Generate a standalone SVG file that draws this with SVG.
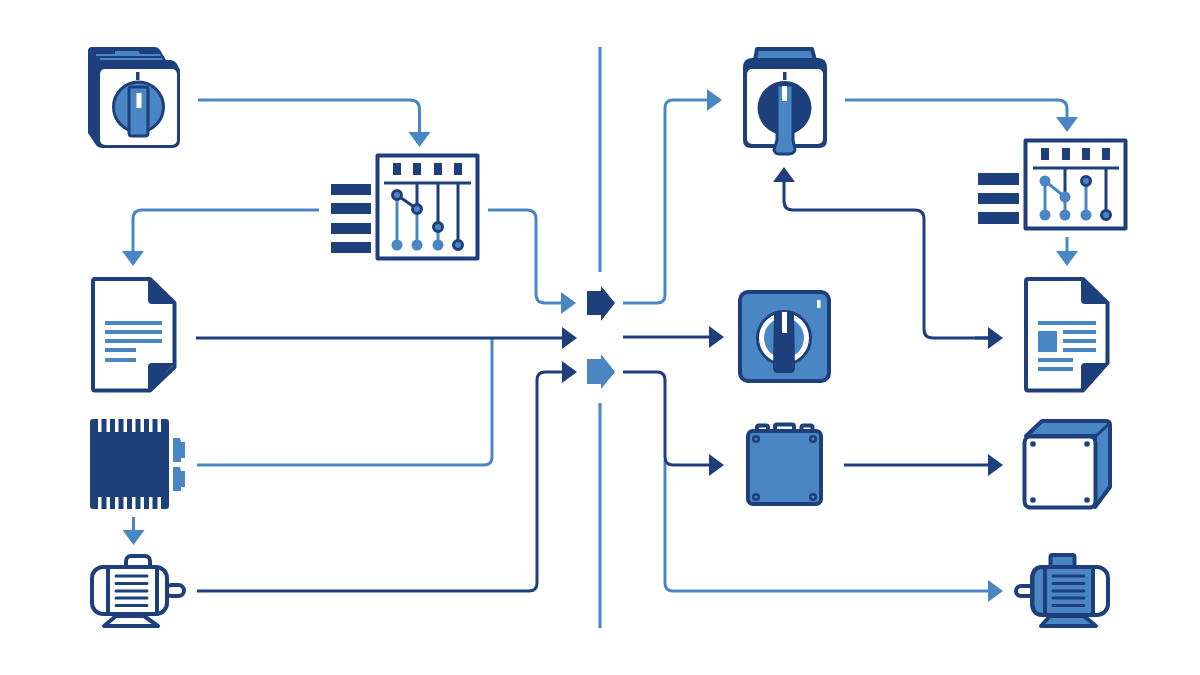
<svg xmlns="http://www.w3.org/2000/svg" width="1200" height="675" viewBox="0 0 1200 675">
<style>
.n{fill:#1d3f7c}.b{fill:#4a86c4}.w{fill:#fff}
.c{fill:none;stroke-width:3;stroke-linejoin:round}
.cb{stroke:#4a86c4}.cn{stroke:#1d3f7c}
.tl{stroke:#1d3f7c;stroke-width:3;fill:none}
.bl{stroke:#4a86c4;stroke-width:3;fill:none}
.nb{stroke:#1d3f7c;stroke-width:4;fill:#4a86c4;stroke-linejoin:round}
.nw{stroke:#1d3f7c;stroke-width:4;fill:#fff;stroke-linejoin:round}
.dot{stroke:#1d3f7c;stroke-width:3;fill:#4a86c4}
.knob{stroke:#1d3f7c;stroke-width:3;fill:#4a86c4;stroke-linejoin:round}
</style>
<defs>
<marker id="ab" markerUnits="userSpaceOnUse" markerWidth="18" markerHeight="24" refX="1" refY="11" orient="auto"><path d="M0 0L15 11L0 22Z" fill="#4a86c4"/></marker>
<marker id="an" markerUnits="userSpaceOnUse" markerWidth="18" markerHeight="24" refX="1" refY="11" orient="auto"><path d="M0 0L15 11L0 22Z" fill="#1d3f7c"/></marker>
</defs>
<rect width="1200" height="675" fill="#fff"/>

<g id="connectors">
<path class="c cb" d="M600 47V272M600 403V628"/>
<path class="c cb" marker-end="url(#ab)" d="M198 100H410q9.500 0 9.500 9.500V133"/>
<path class="c cb" marker-end="url(#ab)" d="M319 210H142q-9 0-9 9V252"/>
<path class="c cb" marker-end="url(#ab)" d="M488 210H527q9 0 9 9V294q0 9 9 9H562"/>
<path class="c cb" d="M197 465H484q8 0 8-8V338"/>
<path class="c cn" marker-end="url(#an)" d="M196 338H563"/>
<path class="c cb" marker-end="url(#ab)" d="M133.500 517V531"/>
<path class="c cn" marker-end="url(#an)" d="M197 591H529q8 0 8-8V380q0-8 8-8H563"/>
<path class="c cb" marker-end="url(#ab)" d="M623 303H657q8 0 8-8V108q0-8 8-8H708"/>
<path class="c cn" marker-end="url(#an)" d="M623 337H710"/>
<path class="c cb" marker-end="url(#ab)" d="M665 460V583q0 8 8 8H989"/>
<path class="c cn" marker-end="url(#an)" d="M623 372H657q8 0 8 8V457q0 8 8 8H710"/>
<path class="c cn" marker-end="url(#an)" d="M844 465H989"/>
<path class="c cn" marker-end="url(#an)" d="M989 338H933q-9 0-9-9V219q0-9-9-9H793q-9 0-9-9V181"/>
<path class="c cn" marker-end="url(#an)" d="M975 338H989"/>
<path class="c cb" marker-end="url(#ab)" d="M845 100H1058q9 0 9 9V118"/>
<path class="c cb" marker-end="url(#ab)" d="M1067 237V252"/>
</g>

<g id="junction">
<path class="n" d="M587 291H601V286L615 303L601 321V315H587Z"/>
<path class="b" d="M587 359H601V354L615 372L601 389V384H587Z"/>
</g>

<g id="switch-left">
<path class="n" d="M92 47H155Q158 47 160 50L166 60H170Q174 60 177 64L180 70V140Q180 148 172 148H103Q98 148 96 145L88 133V51Q88 47 92 47Z"/>
<path class="b" d="M115 51H138L140 54H160L161 56H96V54H115ZM100 58H162L163 60H100Z"/>
<rect class="w" x="100" y="69" width="77" height="76" rx="5"/>
<rect class="n" x="136" y="72" width="3.500" height="8"/>
<circle class="knob" cx="138.500" cy="107" r="25"/>
<path class="knob" d="M131 87H146Q148 87 148 90V133Q148 136 145 136H132Q129 136 129 133V90Q129 87 131 87Z"/>
<rect class="w" x="136.500" y="93" width="5" height="15"/>
</g>

<g id="panel-left">
<rect class="nw" x="377.500" y="155.500" width="100" height="103" stroke-linejoin="miter"/>
<g class="n"><rect x="393" y="163" width="8" height="12"/><rect x="413" y="163" width="8" height="12"/><rect x="434" y="163" width="8" height="12"/><rect x="454" y="163" width="8" height="12"/>
<rect x="331" y="184" width="40" height="11"/><rect x="331" y="203" width="40" height="11"/><rect x="331" y="223" width="40" height="11"/><rect x="331" y="242" width="40" height="11"/></g>
<path class="tl" d="M384 183H471M417 183V209M438 183V227M458 183V244"/>
<path class="bl" d="M397 195V244M417 209V244M438 227V244"/>
<path class="tl" d="M397 195L417 209"/>
<circle class="dot" cx="397" cy="195" r="4.500"/><circle class="dot" cx="417" cy="209" r="4.500"/><circle class="dot" cx="438" cy="227" r="4.500"/>
<circle class="b" cx="397" cy="245" r="5.500"/><circle class="b" cx="417" cy="245" r="5.500"/><circle class="b" cx="438" cy="245" r="5.500"/><circle class="dot" cx="458" cy="245" r="4.500"/>
</g>

<g id="doc-left">
<path class="nw" d="M95 279H150L174.500 303V367L150 390.500H95Q93 390.500 93 388V281Q93 279 95 279Z"/>
<path class="n" d="M148 279L175 304H152Q148 304 148 300ZM148 392L175 363H152Q148 363 148 367Z"/>
<g class="b"><rect x="105" y="321" width="57" height="4"/><rect x="105" y="330" width="57" height="4"/><rect x="105" y="339" width="57" height="4"/><rect x="105" y="348" width="31" height="4"/><rect x="105" y="358" width="31" height="4"/></g>
</g>

<g id="chip">
<rect class="n" x="90" y="419" width="79" height="90" rx="3"/>
<g class="w"><rect x="98" y="419" width="3.500" height="13"/><rect x="106.500" y="419" width="3.500" height="13"/><rect x="115" y="419" width="3.500" height="13"/><rect x="123.500" y="419" width="3.500" height="13"/><rect x="132" y="419" width="3.500" height="13"/><rect x="140.500" y="419" width="3.500" height="13"/><rect x="149" y="419" width="3.500" height="13"/><rect x="157.500" y="419" width="3.500" height="13"/>
<rect x="98" y="497" width="3.500" height="12"/><rect x="106.500" y="497" width="3.500" height="12"/><rect x="115" y="497" width="3.500" height="12"/><rect x="123.500" y="497" width="3.500" height="12"/><rect x="132" y="497" width="3.500" height="12"/><rect x="140.500" y="497" width="3.500" height="12"/><rect x="149" y="497" width="3.500" height="12"/><rect x="157.500" y="497" width="3.500" height="12"/></g>
<path class="b" d="M173 438H180L181 442H185V458H181V462H173ZM173 467H180L181 471H185V487H181V491H173Z"/>
</g>

<g id="motor-left">
<rect class="nw" x="126" y="556" width="24" height="14" rx="5"/>
<rect class="nw" x="166" y="585" width="18" height="11" rx="5.500"/>
<rect class="nw" x="92" y="567" width="75" height="47" rx="11"/>
<rect class="nw" x="108" y="567" width="49" height="47"/>
<path class="tl" stroke-linecap="round" d="M116 576H147M116 583.500H147M116 591H147M116 598H147M116 605.500H147"/>
<path class="nw" d="M116 616H144L158 626H104Z"/>
</g>

<g id="switch-right">
<path class="nb" d="M757 49H812L815 60H755Z"/>
<path class="n" d="M752 58H818Q827 58 827 68V140Q827 148 819 148H751Q743 148 743 140V68Q743 58 752 58Z"/>
<rect class="w" x="747" y="69" width="76" height="75" rx="5"/>
<rect class="n" x="783" y="72" width="3.500" height="8"/>
<circle class="n" cx="784.500" cy="108" r="27"/>
<path class="knob" d="M777 85H793V140L795 150Q794 154 789 154H779Q775 154 774 150L777 140Z"/>
<rect class="w" x="782" y="86" width="5" height="15"/>
</g>

<g id="switch-dial">
<rect class="nb" x="740" y="292" width="89" height="89" rx="8"/>
<rect class="w" x="817" y="300" width="3.500" height="8"/>
<circle cx="784" cy="338" r="26.500" fill="#fff" stroke="#1d3f7c" stroke-width="3"/>
<circle class="b" cx="784" cy="338" r="20"/>
<path class="n" d="M776 312H792Q794 312 794 315L795 368Q795 373 790 373H778Q773 373 773 368L774 315Q774 312 776 312Z"/>
<rect class="w" x="782" y="312" width="5" height="21"/>
</g>

<g id="panel-right">
<rect class="nw" x="1025.500" y="140.500" width="100" height="88" stroke-linejoin="miter"/>
<g class="n"><rect x="1041" y="148" width="8" height="12"/><rect x="1062" y="148" width="8" height="12"/><rect x="1082" y="148" width="8" height="12"/><rect x="1102" y="148" width="8" height="12"/>
<rect x="978" y="173" width="41" height="12"/><rect x="978" y="193" width="41" height="11"/><rect x="978" y="212" width="41" height="12"/></g>
<path class="tl" d="M1033 168H1119M1065 168V197M1106 168V214"/>
<path class="bl" d="M1045 181V214M1065 197V214M1086 181V214M1045 181L1065 197"/>
<circle class="b" cx="1045" cy="181" r="5.500"/><circle class="b" cx="1065" cy="197" r="5.500"/>
<circle class="b" cx="1045" cy="215" r="5.500"/><circle class="b" cx="1065" cy="215" r="5.500"/><circle class="b" cx="1086" cy="215" r="5.500"/>
<circle class="dot" cx="1086" cy="181" r="4.500"/><circle class="dot" cx="1106" cy="215" r="4.500"/>
</g>

<g id="doc-right">
<path class="nw" d="M1028 279H1083L1107.500 303V363L1083 390.500H1028Q1026 390.500 1026 388V281Q1026 279 1028 279Z"/>
<path class="n" d="M1081 279L1108 304H1085Q1081 304 1081 300ZM1081 392L1108 363H1085Q1081 363 1081 367Z"/>
<g class="b"><rect x="1038" y="321" width="58" height="4"/><rect x="1038" y="331" width="19" height="21"/><rect x="1063" y="330" width="33" height="4"/><rect x="1063" y="339" width="33" height="4"/><rect x="1063" y="348" width="33" height="4"/><rect x="1038" y="358" width="35" height="4"/><rect x="1038" y="367" width="35" height="4"/></g>
</g>

<g id="box-blue">
<g class="nw"><rect x="757" y="425.500" width="11" height="8" rx="2"/><rect x="775" y="424.500" width="19" height="9" rx="2"/><rect x="801.500" y="425.500" width="11" height="8" rx="2"/></g>
<rect class="nb" x="748" y="431" width="73" height="73" rx="5"/>
<g class="b" stroke="#1d3f7c" stroke-width="2.500"><circle cx="756" cy="439" r="2.800"/><circle cx="813" cy="439" r="2.800"/><circle cx="756" cy="497" r="2.800"/><circle cx="813" cy="497" r="2.800"/></g>
</g>

<g id="box-3d">
<path class="nb" d="M1026 436L1042 421H1106Q1110 421 1110 425V487L1095 507V436Z"/>
<path class="tl" d="M1096 436L1110 423"/>
<rect class="nw" x="1024.500" y="436.500" width="71" height="71" rx="6"/>
<g class="n"><circle cx="1033" cy="444" r="2.800"/><circle cx="1087" cy="444" r="2.800"/><circle cx="1033" cy="500" r="2.800"/><circle cx="1087" cy="500" r="2.800"/></g>
</g>

<g id="motor-right">
<rect class="nb" x="1050.500" y="555" width="24" height="14" rx="2"/>
<rect class="nw" x="1016" y="586" width="18" height="10" rx="5"/>
<rect class="nw" x="1032" y="567" width="76" height="48" rx="11"/>
<path class="nb" d="M1043 567H1045V615H1043Q1032.500 615 1032.500 604V578Q1032.500 567 1043 567Z"/>
<rect class="nb" x="1045" y="567" width="48" height="48"/>
<path class="tl" stroke-linecap="round" d="M1053 576H1084M1053 583.500H1084M1053 591H1084M1053 598H1084M1053 605.500H1084"/>
<path class="nb" d="M1050 616H1084L1096 626H1041Z"/>
</g>
</svg>
